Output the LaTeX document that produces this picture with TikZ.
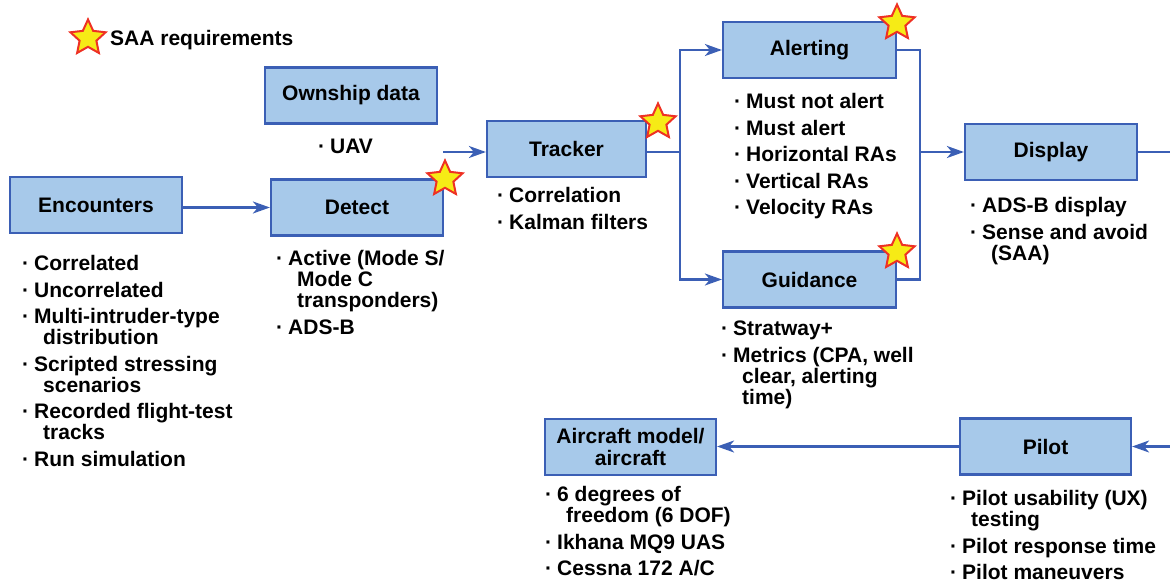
\documentclass[tikz,border=0pt]{standalone}
\usepackage{fontspec}
\setmainfont{Liberation Sans}
\usetikzlibrary{shapes.geometric,arrows.meta}
\definecolor{boxfill}{HTML}{A7C9EA}
\definecolor{boxline}{HTML}{3B5FB5}
\definecolor{starred}{HTML}{EE3124}
\definecolor{staryel}{HTML}{F6EB16}
\newcommand{\bul}{\makebox[12pt][l]{·}}
\newcommand{\cnt}{\hspace*{21pt}}
\newcommand{\fst}{\rule{0pt}{15pt}}
\begin{document}
\begin{tikzpicture}[x=1pt,y=-1pt,
  box/.style={draw=boxline, line width=2.2pt, fill=boxfill, minimum width=172pt, minimum height=56pt, inner sep=0pt, font=\fontsize{21}{22}\selectfont\bfseries, align=center},
  lst/.style={anchor=north west, inner sep=0pt, align=left, font=\fontsize{21}{21}\selectfont\bfseries},
  conn/.style={draw=boxline, line width=2.2pt},
  arr/.style={conn, -{Stealth[length=17pt,width=12pt,inset=5pt]}},
  req/.style={star, star points=5, star point ratio=2.1, minimum size=37pt, inner sep=0pt, draw=starred, fill=staryel, line width=2pt}]
\useasboundingbox (0,0) rectangle (1170,585);

% legend
\node[req] (legstar) at (88,38) {};
\node[anchor=west, inner sep=0pt, font=\fontsize{21}{21}\selectfont\bfseries] (legtext) at (110,40) {SAA requirements};

% boxes
\node[box] (enc) at (96,205) {Encounters};
\node[box] (det) at (357,207.5) {Detect};
\node[box] (own) at (351,95.5) {Ownship data};
\node[box, minimum width=159pt] (trk) at (566.5,149) {Tracker};
\node[box, minimum width=173pt] (alr) at (809.5,50) {Alerting};
\node[box, minimum width=173pt] (gui) at (809.5,279.5) {Guidance};
\node[box] (dsp) at (1051,152) {Display};
\node[box, minimum width=171pt] (plt) at (1045.5,446.5) {Pilot};
\node[box, minimum width=171pt] (acm) at (630.5,447) {Aircraft model/\\aircraft};

% stars
\node[req] (s1) at (445,179) {};
\node[req] (s2) at (658,122) {};
\node[req] (s3) at (897,23) {};
\node[req] (s4) at (897,252) {};

% lists
\node[lst] (lenc) at (22,255.5) {\fst\bul Correlated\\[5.5pt]
\bul Uncorrelated\\[5.5pt]
\bul Multi-intruder-type\\
\cnt distribution\\[5.5pt]
\bul Scripted stressing\\
\cnt scenarios\\[5.5pt]
\bul Recorded flight-test\\
\cnt tracks\\[5.5pt]
\bul Run simulation};

\node[lst] (ldet) at (276,250.5) {\fst\bul Active (Mode S/\\
\cnt Mode C\\
\cnt transponders)\\[5.5pt]
\bul ADS-B};

\node[lst] (lown) at (318,138.5) {\fst\bul UAV};

\node[lst] (ltrk) at (497,187.5) {\fst\bul Correlation\\[5.5pt]
\bul Kalman filters};

\node[lst] (lalr) at (734,93.5) {\fst\bul Must not alert\\[5.5pt]
\bul Must alert\\[5.5pt]
\bul Horizontal RAs\\[5.5pt]
\bul Vertical RAs\\[5.5pt]
\bul Velocity RAs};

\node[lst] (lgui) at (721,320.5) {\fst\bul Stratway+\\[5.5pt]
\bul Metrics (CPA, well\\
\cnt clear, alerting\\
\cnt time)};

\node[lst] (ldsp) at (970,197.5) {\fst\bul ADS-B display\\[5.5pt]
\bul Sense and avoid\\
\cnt (SAA)};

\node[lst] (lplt) at (950,490.5) {\fst\bul Pilot usability (UX)\\
\cnt testing\\[5.5pt]
\bul Pilot response time\\[5.5pt]
\bul Pilot maneuvers};

\node[lst] (lacm) at (545,486.5) {\fst\bul 6 degrees of\\
\cnt freedom (6 DOF)\\[5.5pt]
\bul Ikhana MQ9 UAS\\[5.5pt]
\bul Cessna 172 A/C};

% connectors
\coordinate (inT) at (443,152);
\coordinate (split) at (680,152);
\coordinate (merge) at (920,152);
\coordinate (outR) at (1171,152);
\coordinate (inR) at (1171,446.5);

\draw[arr] (det.west -| enc.east) -- (det.west);
\draw[arr] (inT) -- (inT -| trk.west);
\draw[conn] (trk.east |- split) -- (split);
\draw[arr] (split) |- (alr.west);
\draw[arr] (split) |- (gui.west);
\draw[conn] (alr.east) -| (merge);
\draw[conn] (gui.east) -| (merge);
\draw[arr] (merge) -- (dsp.west);
\draw[conn] (dsp.east) -- (outR);
\draw[arr] (inR) -- (plt.east);
\draw[arr] (plt.west) -- (plt.west -| acm.east);
\end{tikzpicture}
\end{document}
